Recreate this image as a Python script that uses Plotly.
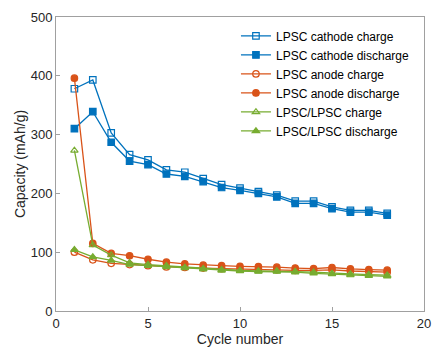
import plotly.graph_objects as go

cycles = list(range(1, 19))

cathode_charge = [378, 393, 303, 266, 257, 240, 236, 225, 215, 209, 203, 197, 187, 187, 177, 171, 171, 166]
cathode_discharge = [310, 339, 287, 255, 249, 233, 229, 220, 210, 205, 200, 194, 183, 183, 174, 168, 168, 163]
anode_charge = [100, 87, 81, 79, 77, 75, 74, 73, 72, 71, 71, 70, 69, 69, 70, 68, 67, 66]
anode_discharge = [396, 115, 98, 94, 88, 83, 80, 78, 77, 76, 75.5, 74.5, 73, 72, 74, 71.5, 70.5, 69.5]
sym_charge = [273, 112, 95, 82, 79, 77, 74, 72, 70, 69, 68, 68, 67, 66, 64, 63, 62, 61]
sym_discharge = [104, 92, 86, 79, 77, 75, 73, 71, 69, 68, 67, 67, 66, 64, 63, 61, 60, 59]

BLUE = "#0072BD"
ORANGE = "#D95319"
GREEN = "#77AC30"

series = [
    ("LPSC cathode charge", cathode_charge, BLUE, "square-open"),
    ("LPSC cathode discharge", cathode_discharge, BLUE, "square"),
    ("LPSC anode charge", anode_charge, ORANGE, "circle-open"),
    ("LPSC anode discharge", anode_discharge, ORANGE, "circle"),
    ("LPSC/LPSC charge", sym_charge, GREEN, "triangle-up-open"),
    ("LPSC/LPSC discharge", sym_discharge, GREEN, "triangle-up"),
]

fig = go.Figure()
for name, vals, color, sym in series:
    fig.add_trace(go.Scatter(
        x=cycles, y=vals, name=name, mode="lines+markers",
        line=dict(color=color, width=1.3),
        marker=dict(symbol=sym, size=6.5, color=color, line=dict(color=color, width=1.2)),
    ))

axis_common = dict(
    showline=True, linecolor="#a0a0a0", linewidth=1, mirror=True,
    ticks="inside", ticklen=4, tickcolor="#a0a0a0",
    showgrid=False, zeroline=False,
    tickfont=dict(family="Arial, Liberation Sans", size=13, color="#262626"),
)

fig.update_layout(
    width=438, height=352,
    margin=dict(l=56, r=7, t=17, b=41),
    plot_bgcolor="white", paper_bgcolor="white",
    font=dict(family="Arial, Liberation Sans", color="#262626"),
    xaxis=dict(range=[0, 20], dtick=5, ticklabeloverflow="allow",
               title=dict(text="Cycle number", font=dict(size=14), standoff=4),
               **axis_common),
    yaxis=dict(range=[0, 500], dtick=100,
               title=dict(text="Capacity (mAh/g)", font=dict(size=14), standoff=1),
               **axis_common),
    legend=dict(x=0.489, y=0.985, xanchor="left", yanchor="top",
                bgcolor="rgba(0,0,0,0)", borderwidth=0,
                font=dict(size=12, color="#000000"),
                tracegroupgap=0, itemwidth=30),
    showlegend=True,
)

fig.write_html("out.html")
